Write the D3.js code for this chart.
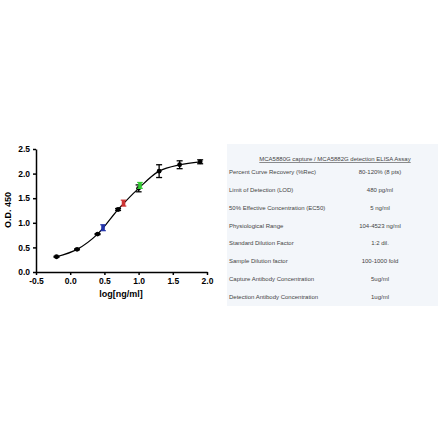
<!DOCTYPE html>
<meta charset="utf-8">
<style>
body { margin: 0; background: #fff; }
svg text { font-family: "Liberation Sans", Arial, sans-serif; }
.axis path, .axis line { stroke: #000; stroke-width: 1.5px; }
.axis text { font-size: 8.5px; font-weight: bold; fill: #000; }
.title { font-size: 9px; font-weight: bold; }
.tbl { font-size: 6px; fill: #444; }
</style>
<svg width="440" height="441" id="chart"></svg>
<script src="https://d3js.org/d3.v7.min.js"></script>
<script>
// standard curve points (log conc, OD, sd)
var logConc = [-0.2, 0.1, 0.4, 0.7, 1.0, 1.3, 1.6, 1.9];
var od      = [0.31, 0.46, 0.77, 1.27, 1.70, 2.05, 2.18, 2.24];
var sd      = [0.01, 0.01, 0.01, 0.02, 0.07, 0.13, 0.08, 0.04];

// coloured sample points
var sampleX = [0.48, 0.78, 1.02];
var sampleY = [0.90, 1.40, 1.76];
var sampleSd = [0.06, 0.06, 0.06];
var sampleColor = ["#2233aa", "#cc3333", "#33cc33"];

var xTicks = [-0.5, 0.0, 0.5, 1.0, 1.5, 2.0];
var yTicks = [0.0, 0.5, 1.0, 1.5, 2.0, 2.5];

var tableTitle = "MCA5880G capture / MCA5882G detection ELISA Assay";
var tableLabels = ["Percent Curve Recovery (%Rec)", "Limit of Detection (LOD)",
  "50% Effective Concentration (EC50)", "Physiological Range",
  "Standard Dilution Factor", "Sample Dilution factor",
  "Capture Antibody Concentration", "Detection Antibody Concentration"];
var tableValues = ["80-120% (8 pts)", "480 pg/ml", "5 ng/ml", "104-4523 ng/ml",
  "1:2 dil.", "100-1000 fold", "5ug/ml", "1ug/ml"];

var svg = d3.select("#chart");

var x = d3.scaleLinear().domain([-0.5, 2.0]).range([36, 207]);
var y = d3.scaleLinear().domain([0, 2.5]).range([272, 149]);

svg.append("g").attr("class", "axis")
  .attr("transform", "translate(0,272)")
  .call(d3.axisBottom(x).tickValues(xTicks).tickFormat(d3.format(".1f")).tickSize(3).tickSizeOuter(0));

svg.append("g").attr("class", "axis")
  .attr("transform", "translate(36,0)")
  .call(d3.axisLeft(y).tickValues(yTicks).tickFormat(d3.format(".1f")).tickSize(3).tickSizeOuter(0));

svg.selectAll(".axis text").each(function() {
  d3.select(this).text(d3.select(this).text().replace("\u2212", "-"));
});

svg.append("text").attr("class", "title")
  .attr("x", 121).attr("y", 297).attr("text-anchor", "middle")
  .text("log[ng/ml]");
svg.append("text").attr("class", "title")
  .attr("transform", "translate(11,210) rotate(-90)")
  .attr("text-anchor", "middle")
  .text("O.D. 450");

var pts = logConc.map(function(d, i) { return [d, od[i], sd[i]]; });

svg.append("path")
  .datum(pts)
  .attr("fill", "none")
  .attr("stroke", "#000")
  .attr("stroke-width", 1.2)
  .attr("d", d3.line().x(d => x(d[0])).y(d => y(d[1])).curve(d3.curveCatmullRom));

// error bars
var eb = svg.append("g").selectAll("g").data(pts).enter().append("g");
eb.append("line")
  .attr("x1", d => x(d[0])).attr("x2", d => x(d[0]))
  .attr("y1", d => y(d[1] - d[2])).attr("y2", d => y(d[1] + d[2]))
  .attr("stroke", "#000").attr("stroke-width", 1.3);
[-1, 1].forEach(function(s) {
  eb.append("line")
    .attr("x1", d => x(d[0]) - 3).attr("x2", d => x(d[0]) + 3)
    .attr("y1", d => y(d[1] + s * d[2])).attr("y2", d => y(d[1] + s * d[2]))
    .attr("stroke", "#000").attr("stroke-width", 1.3);
});
eb.append("circle")
  .attr("cx", d => x(d[0])).attr("cy", d => y(d[1]))
  .attr("r", 2.4).attr("fill", "#000");

// coloured samples
var sp = svg.append("g").selectAll("g")
  .data(sampleX.map((d, i) => [d, sampleY[i], sampleSd[i], sampleColor[i]]))
  .enter().append("g");
sp.append("rect")
  .attr("x", d => x(d[0]) - 1.8).attr("width", 3.6)
  .attr("y", d => y(d[1] + d[2])).attr("height", d => y(d[1] - d[2]) - y(d[1] + d[2]))
  .attr("fill", d => d[3]);
[-1, 1].forEach(function(s) {
  sp.append("line")
    .attr("x1", d => x(d[0]) - 2.8).attr("x2", d => x(d[0]) + 2.8)
    .attr("y1", d => y(d[1] + s * d[2])).attr("y2", d => y(d[1] + s * d[2]))
    .attr("stroke", d => d[3]).attr("stroke-width", 1.2);
});

// table
var tb = svg.append("g");
tb.append("rect").attr("x", 227).attr("y", 144).attr("width", 211).attr("height", 162)
  .attr("fill", "#f3f6fa");
tb.append("text").attr("class", "tbl")
  .attr("x", 335).attr("y", 161).attr("text-anchor", "middle")
  .attr("text-decoration", "underline")
  .text(tableTitle);
var row = d3.scaleLinear().domain([0, tableLabels.length - 1]).range([174, 299]);
tb.selectAll(".lab").data(tableLabels).enter().append("text")
  .attr("class", "tbl").attr("x", 229).attr("y", (d, i) => row(i)).text(d => d);
tb.selectAll(".val").data(tableValues).enter().append("text")
  .attr("class", "tbl").attr("x", 380).attr("y", (d, i) => row(i))
  .attr("text-anchor", "middle").text(d => d);
</script>
